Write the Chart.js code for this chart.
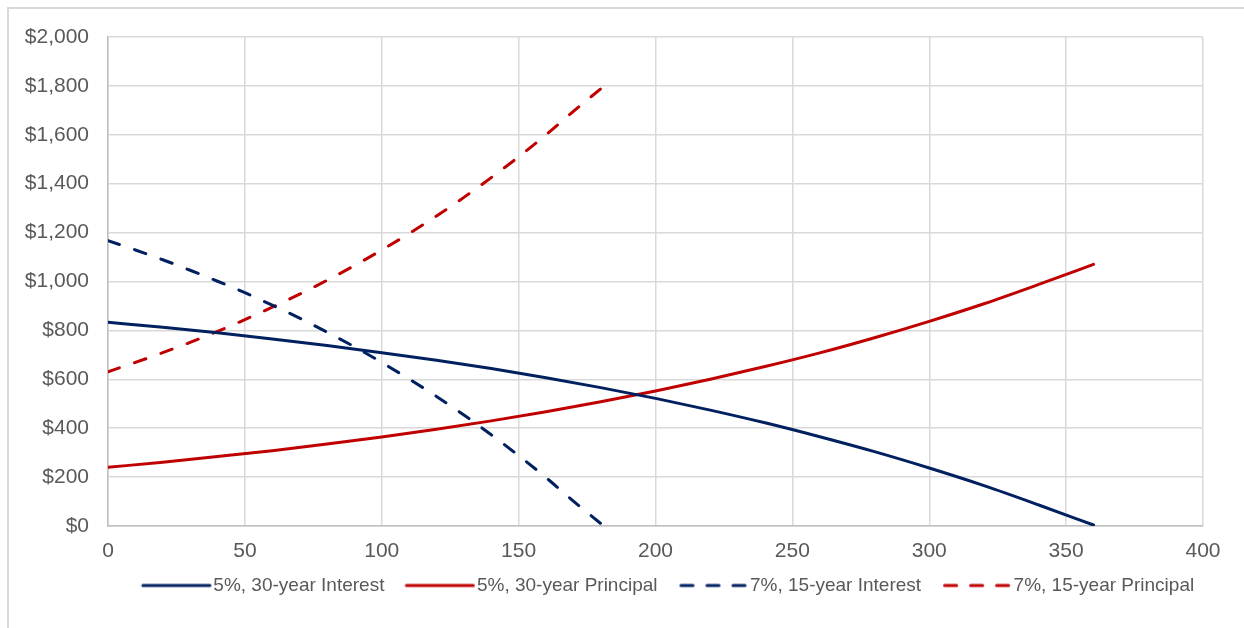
<!DOCTYPE html>
<html>
<head>
<meta charset="utf-8">
<script src="https://cdn.jsdelivr.net/npm/chart.js@4/dist/chart.umd.min.js"></script>
<style>
  html, body { margin: 0; padding: 0; background: #fff; }
  #wrap { position: relative; width: 1244px; height: 628px; overflow: hidden; }
  #frame { position: absolute; left: 7px; top: 7px; width: 1300px; height: 700px;
           border: 2px solid #D9D9D9; box-sizing: border-box; }
  #box { position: absolute; left: 0; top: 0; width: 1244px; height: 628px; }
</style>
</head>
<body>
<div id="wrap">
  <div id="frame"></div>
  <div id="box"><canvas id="c" width="1244" height="628"></canvas></div>
</div>
<script>
// Monthly payment split: month number vs. dollars going to interest / principal
const months30 = [0, 20, 40, 60, 80, 100, 120, 140, 160, 180, 200, 220, 240, 260, 280, 300, 320, 340, 360];
const interest30 = [833, 813, 790, 765, 738, 709, 678, 644, 606, 566, 522, 474, 422, 365, 304, 237, 165, 86, 4];
const principal30 = [240, 261, 284, 308, 335, 364, 396, 430, 467, 508, 552, 600, 652, 708, 770, 837, 909, 988, 1070];

const months15 = [0, 10, 20, 30, 40, 50, 60, 70, 80, 90, 100, 110, 120, 130, 140, 150, 160, 170, 180];
const interest15 = [1167, 1129, 1089, 1046, 1001, 954, 903, 850, 793, 733, 669, 601, 530, 454, 373, 288, 198, 102, 10];
const principal15 = [631, 669, 709, 751, 796, 844, 895, 948, 1005, 1065, 1129, 1196, 1268, 1344, 1425, 1510, 1600, 1696, 1788];

const seriesNames = ['5%, 30-year Interest', '5%, 30-year Principal', '7%, 15-year Interest', '7%, 15-year Principal'];

const xMin = 0, xMax = 400, xStep = 50;
const yMin = 0, yMax = 2000, yStep = 200;

const NAVY = '#002060';
const RED = '#C00000';
const GRID = '#D9D9D9';
const AXIS = '#BFBFBF';
const TEXT = '#595959';
const DASH = [12, 16];
const FONT = 'Liberation Sans, Arial, sans-serif';

const toPoints = (xs, ys) => xs.map((x, i) => ({ x: x, y: ys[i] }));

// small line sample used as the legend symbol
function legendSwatch(color, dashed) {
  const cv = document.createElement('canvas');
  cv.width = 83; cv.height = 8;
  const g = cv.getContext('2d');
  g.strokeStyle = color;
  g.lineWidth = 3;
  g.lineCap = 'round';
  g.setLineDash(dashed ? [12, 14] : []);
  g.beginPath();
  g.moveTo(dashed ? 15.5 : 14, 4);
  g.lineTo(81, 4);
  g.stroke();
  return cv;
}

function series(label, xs, ys, color, dashed) {
  return {
    label: label,
    data: toPoints(xs, ys),
    borderColor: color,
    backgroundColor: color,
    borderWidth: 3,
    borderDash: dashed ? DASH : [],
    borderCapStyle: 'round',
    borderJoinStyle: 'round',
    cubicInterpolationMode: 'monotone',
    pointRadius: 0,
    pointHoverRadius: 0,
    pointStyle: legendSwatch(color, dashed),
    fill: false
  };
}

// nudge the bottom legend horizontally
const legendShift = {
  id: 'legendShift',
  afterLayout(chart) {
    const lg = chart.legend;
    if (lg) { lg.left += 64; lg.right += 64; }
  }
};

new Chart(document.getElementById('c'), {
  type: 'line',
  data: {
    datasets: [
      series(seriesNames[0], months30, interest30, NAVY, false),
      series(seriesNames[1], months30, principal30, RED, false),
      series(seriesNames[2], months15, interest15, NAVY, true),
      series(seriesNames[3], months15, principal15, RED, true)
    ]
  },
  options: {
    responsive: false,
    animation: false,
    devicePixelRatio: 1,
    layout: { padding: { left: 0, right: 41, top: 37, bottom: 23 } },
    scales: {
      x: {
        type: 'linear',
        min: xMin, max: xMax,
        ticks: { stepSize: xStep, color: TEXT, font: { family: FONT, size: 21 }, padding: 13 },
        grid: { color: GRID, lineWidth: 1.5, drawTicks: false },
        border: { color: AXIS, width: 1.5 },
        afterFit(s) { s.height = 34; }
      },
      y: {
        min: yMin, max: yMax,
        ticks: {
          stepSize: yStep, color: TEXT, padding: 19,
          font: { family: FONT, size: 21 },
          callback: v => '$' + Number(v).toLocaleString('en-US')
        },
        grid: { color: GRID, lineWidth: 1.5, drawTicks: false },
        border: { color: AXIS, width: 1.5 },
        afterFit(s) { s.width = 108; }
      }
    },
    plugins: {
      tooltip: { enabled: false },
      legend: {
        position: 'bottom',
        labels: {
          usePointStyle: true,
          pointStyleWidth: 67,
          boxHeight: 19,
          padding: 16,
          color: TEXT,
          font: { family: FONT, size: 19 }
        }
      }
    }
  },
  plugins: [legendShift]
});
</script>
</body>
</html>
